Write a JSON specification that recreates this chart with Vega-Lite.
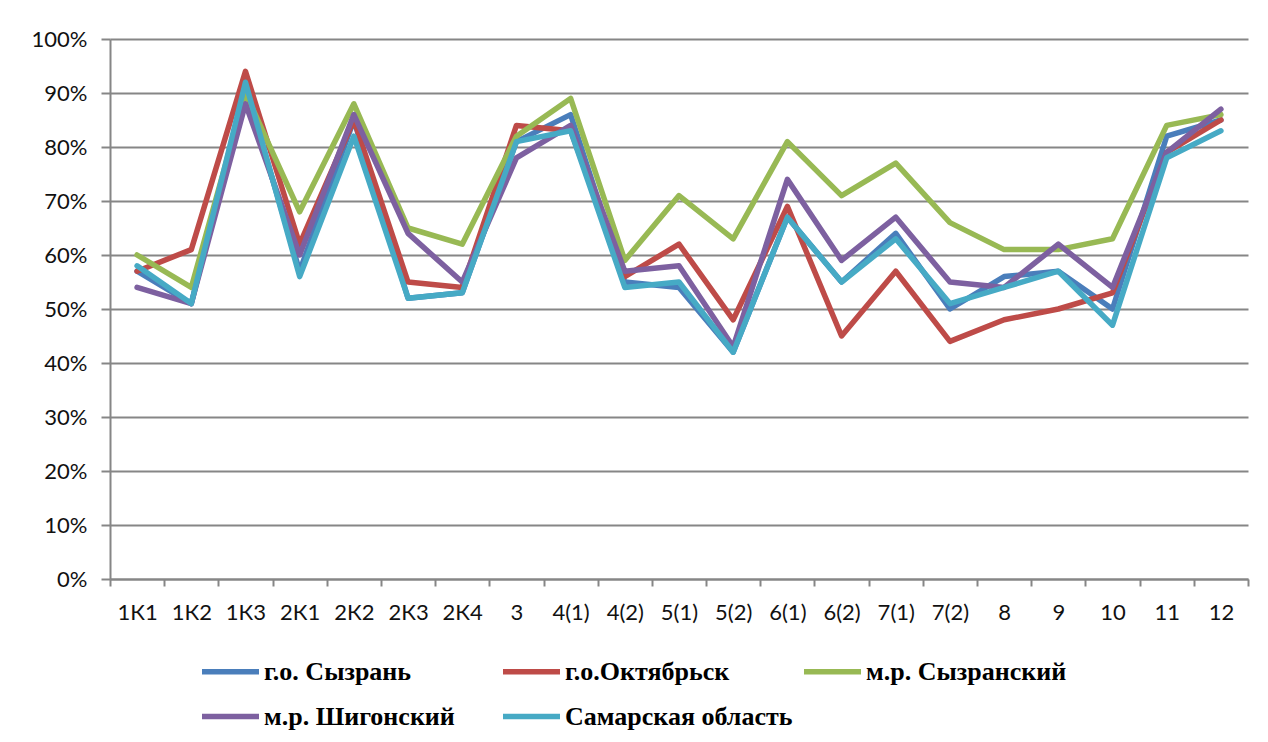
{
  "$schema": "https://vega.github.io/schema/vega-lite/v6.json",
  "width": 1138,
  "height": 540,
  "autosize": {"type": "none"},
  "padding": {"left": 110, "top": 39, "right": 20, "bottom": 163},
  "background": "white",
  "config": {"view": {"stroke": null}},
  "data": {
    "values": [
      {"k": "1К1", "s": "г.о. Сызрань", "v": 57}, {"k": "1К1", "s": "г.о.Октябрьск", "v": 57}, {"k": "1К1", "s": "м.р. Сызранский", "v": 60}, {"k": "1К1", "s": "м.р. Шигонский", "v": 54}, {"k": "1К1", "s": "Самарская область", "v": 58},
      {"k": "1К2", "s": "г.о. Сызрань", "v": 51}, {"k": "1К2", "s": "г.о.Октябрьск", "v": 61}, {"k": "1К2", "s": "м.р. Сызранский", "v": 54}, {"k": "1К2", "s": "м.р. Шигонский", "v": 51}, {"k": "1К2", "s": "Самарская область", "v": 51},
      {"k": "1К3", "s": "г.о. Сызрань", "v": 91}, {"k": "1К3", "s": "г.о.Октябрьск", "v": 94}, {"k": "1К3", "s": "м.р. Сызранский", "v": 90}, {"k": "1К3", "s": "м.р. Шигонский", "v": 88}, {"k": "1К3", "s": "Самарская область", "v": 92},
      {"k": "2К1", "s": "г.о. Сызрань", "v": 57}, {"k": "2К1", "s": "г.о.Октябрьск", "v": 62}, {"k": "2К1", "s": "м.р. Сызранский", "v": 68}, {"k": "2К1", "s": "м.р. Шигонский", "v": 60}, {"k": "2К1", "s": "Самарская область", "v": 56},
      {"k": "2К2", "s": "г.о. Сызрань", "v": 85}, {"k": "2К2", "s": "г.о.Октябрьск", "v": 85}, {"k": "2К2", "s": "м.р. Сызранский", "v": 88}, {"k": "2К2", "s": "м.р. Шигонский", "v": 86}, {"k": "2К2", "s": "Самарская область", "v": 82},
      {"k": "2К3", "s": "г.о. Сызрань", "v": 52}, {"k": "2К3", "s": "г.о.Октябрьск", "v": 55}, {"k": "2К3", "s": "м.р. Сызранский", "v": 65}, {"k": "2К3", "s": "м.р. Шигонский", "v": 64}, {"k": "2К3", "s": "Самарская область", "v": 52},
      {"k": "2К4", "s": "г.о. Сызрань", "v": 53}, {"k": "2К4", "s": "г.о.Октябрьск", "v": 54}, {"k": "2К4", "s": "м.р. Сызранский", "v": 62}, {"k": "2К4", "s": "м.р. Шигонский", "v": 55}, {"k": "2К4", "s": "Самарская область", "v": 53},
      {"k": "3", "s": "г.о. Сызрань", "v": 81}, {"k": "3", "s": "г.о.Октябрьск", "v": 84}, {"k": "3", "s": "м.р. Сызранский", "v": 82}, {"k": "3", "s": "м.р. Шигонский", "v": 78}, {"k": "3", "s": "Самарская область", "v": 81},
      {"k": "4(1)", "s": "г.о. Сызрань", "v": 86}, {"k": "4(1)", "s": "г.о.Октябрьск", "v": 83}, {"k": "4(1)", "s": "м.р. Сызранский", "v": 89}, {"k": "4(1)", "s": "м.р. Шигонский", "v": 84}, {"k": "4(1)", "s": "Самарская область", "v": 83},
      {"k": "4(2)", "s": "г.о. Сызрань", "v": 55}, {"k": "4(2)", "s": "г.о.Октябрьск", "v": 56}, {"k": "4(2)", "s": "м.р. Сызранский", "v": 59}, {"k": "4(2)", "s": "м.р. Шигонский", "v": 57}, {"k": "4(2)", "s": "Самарская область", "v": 54},
      {"k": "5(1)", "s": "г.о. Сызрань", "v": 54}, {"k": "5(1)", "s": "г.о.Октябрьск", "v": 62}, {"k": "5(1)", "s": "м.р. Сызранский", "v": 71}, {"k": "5(1)", "s": "м.р. Шигонский", "v": 58}, {"k": "5(1)", "s": "Самарская область", "v": 55},
      {"k": "5(2)", "s": "г.о. Сызрань", "v": 42}, {"k": "5(2)", "s": "г.о.Октябрьск", "v": 48}, {"k": "5(2)", "s": "м.р. Сызранский", "v": 63}, {"k": "5(2)", "s": "м.р. Шигонский", "v": 43}, {"k": "5(2)", "s": "Самарская область", "v": 42},
      {"k": "6(1)", "s": "г.о. Сызрань", "v": 67}, {"k": "6(1)", "s": "г.о.Октябрьск", "v": 69}, {"k": "6(1)", "s": "м.р. Сызранский", "v": 81}, {"k": "6(1)", "s": "м.р. Шигонский", "v": 74}, {"k": "6(1)", "s": "Самарская область", "v": 67},
      {"k": "6(2)", "s": "г.о. Сызрань", "v": 55}, {"k": "6(2)", "s": "г.о.Октябрьск", "v": 45}, {"k": "6(2)", "s": "м.р. Сызранский", "v": 71}, {"k": "6(2)", "s": "м.р. Шигонский", "v": 59}, {"k": "6(2)", "s": "Самарская область", "v": 55},
      {"k": "7(1)", "s": "г.о. Сызрань", "v": 64}, {"k": "7(1)", "s": "г.о.Октябрьск", "v": 57}, {"k": "7(1)", "s": "м.р. Сызранский", "v": 77}, {"k": "7(1)", "s": "м.р. Шигонский", "v": 67}, {"k": "7(1)", "s": "Самарская область", "v": 63},
      {"k": "7(2)", "s": "г.о. Сызрань", "v": 50}, {"k": "7(2)", "s": "г.о.Октябрьск", "v": 44}, {"k": "7(2)", "s": "м.р. Сызранский", "v": 66}, {"k": "7(2)", "s": "м.р. Шигонский", "v": 55}, {"k": "7(2)", "s": "Самарская область", "v": 51},
      {"k": "8", "s": "г.о. Сызрань", "v": 56}, {"k": "8", "s": "г.о.Октябрьск", "v": 48}, {"k": "8", "s": "м.р. Сызранский", "v": 61}, {"k": "8", "s": "м.р. Шигонский", "v": 54}, {"k": "8", "s": "Самарская область", "v": 54},
      {"k": "9", "s": "г.о. Сызрань", "v": 57}, {"k": "9", "s": "г.о.Октябрьск", "v": 50}, {"k": "9", "s": "м.р. Сызранский", "v": 61}, {"k": "9", "s": "м.р. Шигонский", "v": 62}, {"k": "9", "s": "Самарская область", "v": 57},
      {"k": "10", "s": "г.о. Сызрань", "v": 50}, {"k": "10", "s": "г.о.Октябрьск", "v": 53}, {"k": "10", "s": "м.р. Сызранский", "v": 63}, {"k": "10", "s": "м.р. Шигонский", "v": 54}, {"k": "10", "s": "Самарская область", "v": 47},
      {"k": "11", "s": "г.о. Сызрань", "v": 82}, {"k": "11", "s": "г.о.Октябрьск", "v": 79}, {"k": "11", "s": "м.р. Сызранский", "v": 84}, {"k": "11", "s": "м.р. Шигонский", "v": 79}, {"k": "11", "s": "Самарская область", "v": 78},
      {"k": "12", "s": "г.о. Сызрань", "v": 85}, {"k": "12", "s": "г.о.Октябрьск", "v": 85}, {"k": "12", "s": "м.р. Сызранский", "v": 86}, {"k": "12", "s": "м.р. Шигонский", "v": 87}, {"k": "12", "s": "Самарская область", "v": 83}
    ]
  },
  "mark": {"type": "line", "strokeWidth": 5.5, "strokeJoin": "round", "strokeCap": "round"},
  "encoding": {
    "x": {
      "field": "k",
      "type": "nominal",
      "sort": null,
      "bandPosition": 0.5,
      "scale": {"type": "band", "paddingInner": 0, "paddingOuter": 0},
      "axis": {
        "title": null,
        "labelAngle": 0,
        "labelFont": "Lato",
        "labelFontSize": 22,
        "labelColor": "#111111",
        "labelPadding": 16,
        "tickBand": "extent",
        "tickSize": 7,
        "tickColor": "#868686",
        "tickWidth": 2,
        "domainColor": "#868686",
        "domainWidth": 2,
        "grid": false
      }
    },
    "y": {
      "field": "v",
      "type": "quantitative",
      "scale": {"domain": [0, 100], "nice": false},
      "axis": {
        "title": null,
        "values": [0, 10, 20, 30, 40, 50, 60, 70, 80, 90, 100],
        "labelExpr": "datum.value + '%'",
        "labelFont": "Lato",
        "labelFontSize": 22,
        "labelColor": "#111111",
        "labelPadding": 14,
        "tickSize": 9,
        "tickColor": "#868686",
        "tickWidth": 2,
        "domainColor": "#868686",
        "domainWidth": 2,
        "grid": true,
        "gridColor": "#868686",
        "gridWidth": 2
      }
    },
    "color": {
      "field": "s",
      "type": "nominal",
      "scale": {
        "domain": ["г.о. Сызрань", "г.о.Октябрьск", "м.р. Сызранский", "м.р. Шигонский", "Самарская область"],
        "range": ["#4A7EBB", "#BE4B48", "#98B954", "#7D60A0", "#46AAC5"]
      },
      "legend": {
        "title": null,
        "orient": "none",
        "legendX": 89,
        "legendY": 601,
        "direction": "horizontal",
        "columns": 3,
        "gridAlign": "all",
        "columnPadding": 0,
        "rowPadding": -12,
        "symbolType": "stroke",
        "symbolSize": 3249,
        "symbolStrokeWidth": 5.5,
        "labelOffset": 2,
        "labelFont": "Liberation Serif",
        "labelFontWeight": "bold",
        "labelFontSize": 26,
        "labelColor": "#000000",
        "labelLimit": 400,
        "padding": 0
      }
    }
  }
}
